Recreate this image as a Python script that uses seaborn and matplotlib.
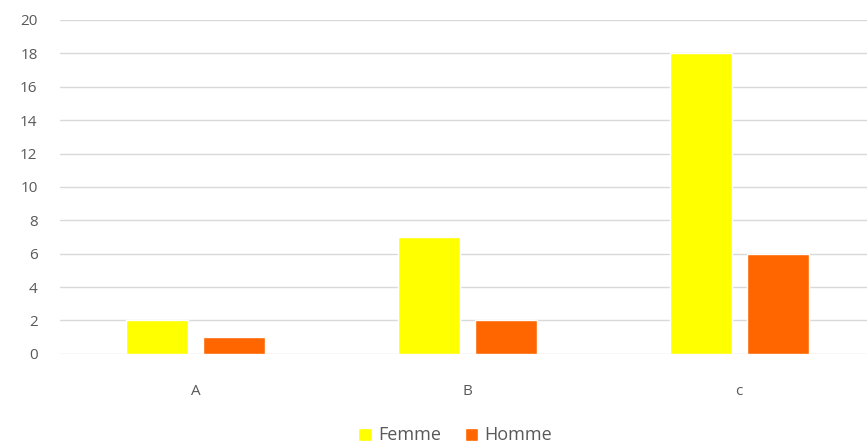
import matplotlib
matplotlib.use("Agg")
import matplotlib.pyplot as plt
import seaborn as sns
import pandas as pd

categories = ["A", "B", "c"]
femme = [2, 7, 18]
homme = [1, 2, 6]
series_names = ["Femme", "Homme"]
colors = ["#FFFF00", "#FF6600"]

df = pd.DataFrame({
    "cat": categories * 2,
    "val": femme + homme,
    "sexe": [series_names[0]] * 3 + [series_names[1]] * 3,
})

sns.set_theme(style="white")
plt.rcParams["font.family"] = ["Open Sans", "DejaVu Sans"]

fig = plt.figure(figsize=(8.67, 4.44), dpi=100)
ax = fig.add_axes([0.069, 0.203, 0.931, 0.752])

sns.barplot(data=df, x="cat", y="val", hue="sexe", order=categories,
            hue_order=series_names, palette=colors, width=0.57, gap=0.2,
            saturation=1, ax=ax, legend=True)

ax.set_ylim(0, 20)
ax.set_xlim(-0.5, 2.47)
ax.set_yticks(range(0, 21, 2))
ax.yaxis.grid(True, color="#d9d9d9", linewidth=1)
ax.set_axisbelow(True)
for s in ax.spines.values():
    s.set_visible(False)
ax.set_xlabel("")
ax.set_ylabel("")
ax.tick_params(axis="both", length=0, labelsize=11, colors="#595959")
ax.tick_params(axis="x", pad=22)
ax.tick_params(axis="y", pad=16)

leg = ax.legend(loc="lower center", bbox_to_anchor=(0.49, -0.32), ncol=2,
                frameon=False, fontsize=13, handlelength=0.75, handleheight=0.75,
                handletextpad=0.35, columnspacing=1.3)
for t in leg.get_texts():
    t.set_color("#595959")

fig.savefig("out.png", dpi=100)
